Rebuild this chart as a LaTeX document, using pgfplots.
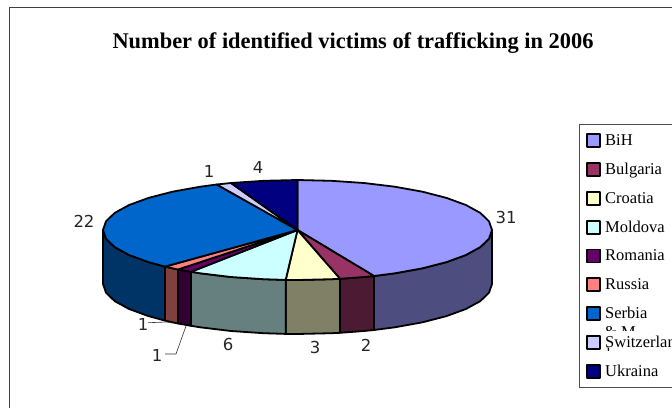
\documentclass[border=0pt]{standalone}
\usepackage{pgfplots}
\pgfplotsset{compat=1.18}
\usepackage{fontspec}
\setmainfont{Liberation Serif}
\newfontfamily\labfont{DejaVu Sans}
\definecolor{cBiH}{HTML}{9999FF}\definecolor{sBiH}{HTML}{4D4D80}
\definecolor{cBul}{HTML}{993366}\definecolor{sBul}{HTML}{4D1A33}
\definecolor{cCro}{HTML}{FFFFCC}\definecolor{sCro}{HTML}{808066}
\definecolor{cMol}{HTML}{CCFFFF}\definecolor{sMol}{HTML}{668080}
\definecolor{cRom}{HTML}{660066}\definecolor{sRom}{HTML}{330033}
\definecolor{cRus}{HTML}{FF8080}\definecolor{sRus}{HTML}{804040}
\definecolor{cSer}{HTML}{0066CC}\definecolor{sSer}{HTML}{003366}
\definecolor{cSwi}{HTML}{CCCCFF}
\definecolor{cUkr}{HTML}{000080}
\newcommand{\lab}[1]{\makebox[90pt][l]{#1}}
\begin{document}
\begin{tikzpicture}
\clip (0,0) rectangle (672pt,408pt);
\begin{axis}[
  scale only axis, width=672pt, height=408pt,
  xmin=0, xmax=672, ymin=0, ymax=408, y dir=reverse,
  hide axis, clip=false,
  legend style={at={(579/672,284/408)}, anchor=north west, draw=black!70, line width=0.8pt, fill=white,
    inner xsep=7pt, inner ysep=9pt, row sep=14pt, column sep=4pt, nodes={inner sep=0pt},
    font=\fontsize{16.5}{19}\selectfont},
  legend cell align=left,
  legend image code/.code={\draw[#1] (0pt,-6.5pt) rectangle (13pt,6.5pt);},
  every axis plot/.append style={line width=1.8pt, draw=black, line join=round},
]
% frame
\addplot[forget plot, draw=black!75, line width=0.9pt, fill=none] coordinates {(9.5,408) (9.5,7.5) (672,7.5)};
% side faces
\addplot[forget plot, fill=sBiH] coordinates {(492,230)(489,238.7)(480.3,247.1)(465.9,255)(446.5,262.1)(422.5,268.3)(394.8,273.3)(374,276)(374,330)(394.8,327.3)(422.5,322.3)(446.5,316.1)(465.9,309)(480.3,301.1)(489,292.7)(492,284)} --cycle;
\addplot[forget plot, fill=sBul] coordinates {(374,276)(364,277)(340,278.8)(340,332.8)(364,331)(374,330)} --cycle;
\addplot[forget plot, fill=sCro] coordinates {(340,278.8)(331.3,279.2)(297.5,280)(285.7,279.9)(285.7,333.9)(297.5,334)(331.3,333.2)(340,332.8)} --cycle;
\addplot[forget plot, fill=sMol] coordinates {(285.7,279.9)(263.7,279.2)(231,277)(200.2,273.3)(191,271.8)(191,325.8)(200.2,327.3)(231,331)(263.7,333.2)(285.7,333.9)} --cycle;
\addplot[forget plot, fill=sRom] coordinates {(191,271.8)(178,269.5)(178,323.5)(191,325.8)} --cycle;
\addplot[forget plot, fill=sRus] coordinates {(178,269.5)(172.5,268.3)(165,266.6)(165,320.6)(172.5,322.3)(178,323.5)} --cycle;
\addplot[forget plot, fill=sSer] coordinates {(165,266.6)(148.5,262.1)(129.1,255)(114.7,247.1)(106,238.7)(103,230)(103,284)(106,292.7)(114.7,301.1)(129.1,309)(148.5,316.1)(165,320.6)} --cycle;
% top slices
\addplot[fill=cBiH] coordinates {(297.5,230)(297.5,180)(331.3,180.8)(364,183)(394.8,186.7)(422.5,191.7)(446.5,197.9)(465.9,205)(480.3,212.9)(489,221.3)(492,230)(489,238.7)(480.3,247.1)(465.9,255)(446.5,262.1)(422.5,268.3)(394.8,273.3)(374,276)} --cycle;
\addlegendentry{\lab{BiH}}
\addplot[fill=cBul] coordinates {(297.5,230)(374,276)(364,277)(340,278.8)} --cycle;
\addlegendentry{\lab{Bulgaria}}
\addplot[fill=cCro] coordinates {(297.5,230)(340,278.8)(331.3,279.2)(297.5,280)(285.7,279.9)} --cycle;
\addlegendentry{\lab{Croatia}}
\addplot[fill=cMol] coordinates {(297.5,230)(285.7,279.9)(263.7,279.2)(231,277)(200.2,273.3)(191,271.8)} --cycle;
\addlegendentry{\lab{Moldova}}
\addplot[fill=cRom] coordinates {(297.5,230)(191,271.8)(178,269.5)} --cycle;
\addlegendentry{\lab{Romania}}
\addplot[fill=cRus] coordinates {(297.5,230)(178,269.5)(172.5,268.3)(165,266.6)} --cycle;
\addlegendentry{\lab{Russia}}
\addplot[fill=cSer] coordinates {(297.5,230)(165,266.6)(148.5,262.1)(129.1,255)(114.7,247.1)(106,238.7)(103,230)(106,221.3)(114.7,212.9)(129.1,205)(148.5,197.9)(172.5,191.7)(200.2,186.7)(216.7,184.5)} --cycle;
\addlegendentry{\lab{Serbia}}
\addplot[fill=cSwi] coordinates {(297.5,230)(216.7,184.5)(231,183)} --cycle;
\addlegendentry{\lab{Switzerland}}
\addplot[fill=cUkr] coordinates {(297.5,230)(231,183)(263.7,180.8)(297.5,180)} --cycle;
\addlegendentry{\lab{Ukraina}}
% leader lines
\addplot[forget plot, draw=black!80, line width=0.6pt, fill=none] coordinates {(148,322.7)(167,322)(172,323)};
\addplot[forget plot, draw=black!80, line width=0.6pt, fill=none] coordinates {(165,354)(176,354)(186,326)};
% labels
\node[font=\fontsize{22.4}{26}\selectfont\bfseries] at (axis cs:353,43) {Number of identified victims of trafficking in 2006};
\begin{scope}[every node/.style={font=\fontsize{16.5}{19}\selectfont\labfont, text=black!85}]
\node at (axis cs:506,217) {31};
\node at (axis cs:84,221) {22};
\node at (axis cs:209,171) {1};
\node at (axis cs:258,167) {4};
\node at (axis cs:366,345) {2};
\node at (axis cs:315,347) {3};
\node at (axis cs:228,344) {6};
\node at (axis cs:143,324) {1};
\node at (axis cs:157,355) {1};
\end{scope}
\end{axis}
\begin{scope}
\clip (600pt,408pt-330pt) rectangle (672pt,408pt-325pt);
\node[anchor=base west, inner sep=0pt, font=\fontsize{16.5}{19}\selectfont] at (604pt,408pt-337pt) {\& M};
\end{scope}
\begin{scope}
\clip (600pt,408pt-350pt) rectangle (672pt,408pt-346pt);
\node[anchor=base west, inner sep=0pt, font=\fontsize{16.5}{19}\selectfont] at (602pt,408pt-359pt) {d};
\end{scope}
\end{tikzpicture}
\end{document}
